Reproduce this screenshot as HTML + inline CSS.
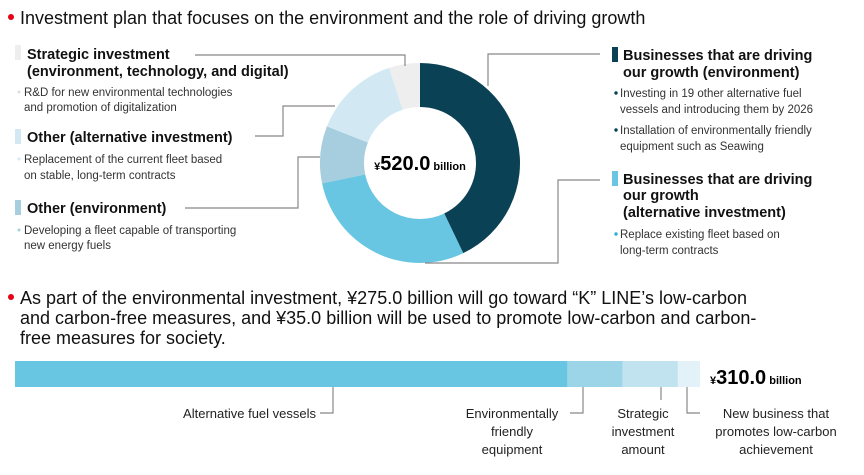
<!DOCTYPE html>
<html><head><meta charset="utf-8"><style>
body{margin:0;background:#fff;}
svg{display:block;font-family:"Liberation Sans",sans-serif;}
.h{font-weight:bold;font-size:14.5px;fill:#111;}
.s{font-size:11.5px;fill:#333;}
.t{font-size:18px;fill:#111;}
.l{font-size:13px;fill:#222;}
.ln{stroke:#888;stroke-width:1.2;fill:none;}
</style></head><body>
<svg id="c" width="864" height="475" viewBox="0 0 864 475">
<circle cx="11" cy="17" r="3" fill="#e60012"/>
<text x="20" y="24" class="t">Investment plan that focuses on the environment and the role of driving growth</text>

<g id="donut"></g>
<text x="420" y="170" text-anchor="middle"><tspan font-size="11" font-weight="bold">¥</tspan><tspan font-size="20" font-weight="bold">520.0</tspan><tspan font-size="11" font-weight="bold"> billion</tspan></text>

<g>
<polyline class="ln" points="195,55 405,55 405,66"/>
<polyline class="ln" points="255,136 283,136 283,106 335,106"/>
<polyline class="ln" points="185,208 298,208 298,157 320,157"/>
<polyline class="ln" points="488,86 488,54 600,54"/>
<polyline class="ln" points="425,263 558,263 558,180 600,180"/>
</g>

<g>
<rect x="15" y="45" width="6" height="15" fill="#eeeeee"/>
<text x="27" y="59" class="h">Strategic investment</text>
<text x="27" y="76" class="h">(environment, technology, and digital)</text>
<circle cx="19" cy="92" r="1.5" fill="#ddd"/>
<text x="24" y="96" class="s">R&amp;D for new environmental technologies</text>
<text x="24" y="111" class="s">and promotion of digitalization</text>
<rect x="15" y="129" width="6" height="15" fill="#d2e9f3"/>
<text x="27" y="142" class="h">Other (alternative investment)</text>
<circle cx="19" cy="159" r="1.5" fill="#d2e9f3"/>
<text x="24" y="163" class="s">Replacement of the current fleet based</text>
<text x="24" y="179" class="s">on stable, long-term contracts</text>
<rect x="15" y="200" width="6" height="15" fill="#a6cede"/>
<text x="27" y="213" class="h">Other (environment)</text>
<circle cx="19" cy="230" r="1.5" fill="#a6cede"/>
<text x="24" y="234" class="s">Developing a fleet capable of transporting</text>
<text x="24" y="249" class="s">new energy fuels</text>
</g>

<g>
<rect x="612" y="47" width="6" height="15" fill="#0a4154"/>
<text x="623" y="60" class="h">Businesses that are driving</text>
<text x="623" y="77" class="h">our growth (environment)</text>
<circle cx="616" cy="93" r="1.7" fill="#0a4154"/>
<text x="620" y="97" class="s">Investing in 19 other alternative fuel</text>
<text x="620" y="113" class="s">vessels and introducing them by 2026</text>
<circle cx="616" cy="130" r="1.7" fill="#0a4154"/>
<text x="620" y="134" class="s">Installation of environmentally friendly</text>
<text x="620" y="150" class="s">equipment such as Seawing</text>
<rect x="612" y="171" width="6" height="15" fill="#68c6e2"/>
<text x="623" y="184" class="h">Businesses that are driving</text>
<text x="623" y="200" class="h">our growth</text>
<text x="623" y="217" class="h">(alternative investment)</text>
<circle cx="616" cy="234" r="1.7" fill="#2bb0d8"/>
<text x="620" y="238" class="s">Replace existing fleet based on</text>
<text x="620" y="254" class="s">long-term contracts</text>
</g>

<g>
<circle cx="11" cy="297" r="3" fill="#e60012"/>
<text x="20" y="304" class="t">As part of the environmental investment, ¥275.0 billion will go toward “K” LINE’s low-carbon</text>
<text x="20" y="324" class="t">and carbon-free measures, and ¥35.0 billion will be used to promote low-carbon and carbon-</text>
<text x="20" y="344" class="t">free measures for society.</text>
</g>

<g id="bar"></g>
<text x="710" y="384"><tspan font-size="11" font-weight="bold">¥</tspan><tspan font-size="20" font-weight="bold">310.0</tspan><tspan font-size="11" font-weight="bold"> billion</tspan></text>

<g>
<polyline class="ln" points="333,387 333,413 320,413"/>
<text x="316" y="418" class="l" text-anchor="end">Alternative fuel vessels</text>
<polyline class="ln" points="583,387 583,413 570,413"/>
<text x="512" y="418" class="l" text-anchor="middle">Environmentally</text>
<text x="512" y="436" class="l" text-anchor="middle">friendly</text>
<text x="512" y="454" class="l" text-anchor="middle">equipment</text>
<polyline class="ln" points="661,387 661,400"/>
<text x="643" y="418" class="l" text-anchor="middle">Strategic</text>
<text x="643" y="436" class="l" text-anchor="middle">investment</text>
<text x="643" y="454" class="l" text-anchor="middle">amount</text>
<polyline class="ln" points="687,387 687,413 700,413"/>
<text x="776" y="418" class="l" text-anchor="middle">New business that</text>
<text x="776" y="436" class="l" text-anchor="middle">promotes low-carbon</text>
<text x="776" y="454" class="l" text-anchor="middle">achievement</text>
</g>
</svg>
<script>
const donutCategories = ["Growth (environment)", "Growth (alternative investment)", "Other (environment)", "Other (alternative investment)", "Strategic investment"];
const donutValues = [223, 150, 48, 73, 26];
const donutColors = ["#0a4154", "#68c6e2", "#a6cede", "#d2e9f3", "#eeeeee"];
const barCategories = ["Alternative fuel vessels", "Environmentally friendly equipment", "Strategic investment amount", "New business"];
const barValues = [250, 25, 25, 10];
const barColors = ["#68c6e2", "#9dd5e8", "#c1e3f0", "#e3f2f9"];

const NS = "http://www.w3.org/2000/svg";
const cx = 420, cy = 163, R = 100, r = 56;
const dTotal = donutValues.reduce((a, b) => a + b, 0);
function angle(v) { return v / dTotal * 2 * Math.PI; }
function pt(a, rad) { return [cx + rad * Math.sin(a), cy - rad * Math.cos(a)]; }
const dg = document.getElementById("donut");
let acc = 0;
donutValues.forEach((v, i) => {
  const a0 = angle(acc), a1 = angle(acc + v);
  acc += v;
  const big = (a1 - a0) > Math.PI ? 1 : 0;
  const [x0, y0] = pt(a0, R), [x1, y1] = pt(a1, R), [x2, y2] = pt(a1, r), [x3, y3] = pt(a0, r);
  const p = document.createElementNS(NS, "path");
  p.setAttribute("d", `M${x0},${y0} A${R},${R} 0 ${big} 1 ${x1},${y1} L${x2},${y2} A${r},${r} 0 ${big} 0 ${x3},${y3} Z`);
  p.setAttribute("fill", donutColors[i]);
  
  
  dg.appendChild(p);
});

const bx0 = 15, bx1 = 700, by = 361, bh = 26;
const bTotal = barValues.reduce((a, b) => a + b, 0);
function xScale(v) { return bx0 + v / bTotal * (bx1 - bx0); }
const bg = document.getElementById("bar");
let bacc = 0;
barValues.forEach((v, i) => {
  const rc = document.createElementNS(NS, "rect");
  rc.setAttribute("x", xScale(bacc));
  rc.setAttribute("y", by);
  rc.setAttribute("width", xScale(bacc + v) - xScale(bacc));
  rc.setAttribute("height", bh);
  rc.setAttribute("fill", barColors[i]);
  
  
  bg.appendChild(rc);
  bacc += v;
});
</script>
</body></html>
